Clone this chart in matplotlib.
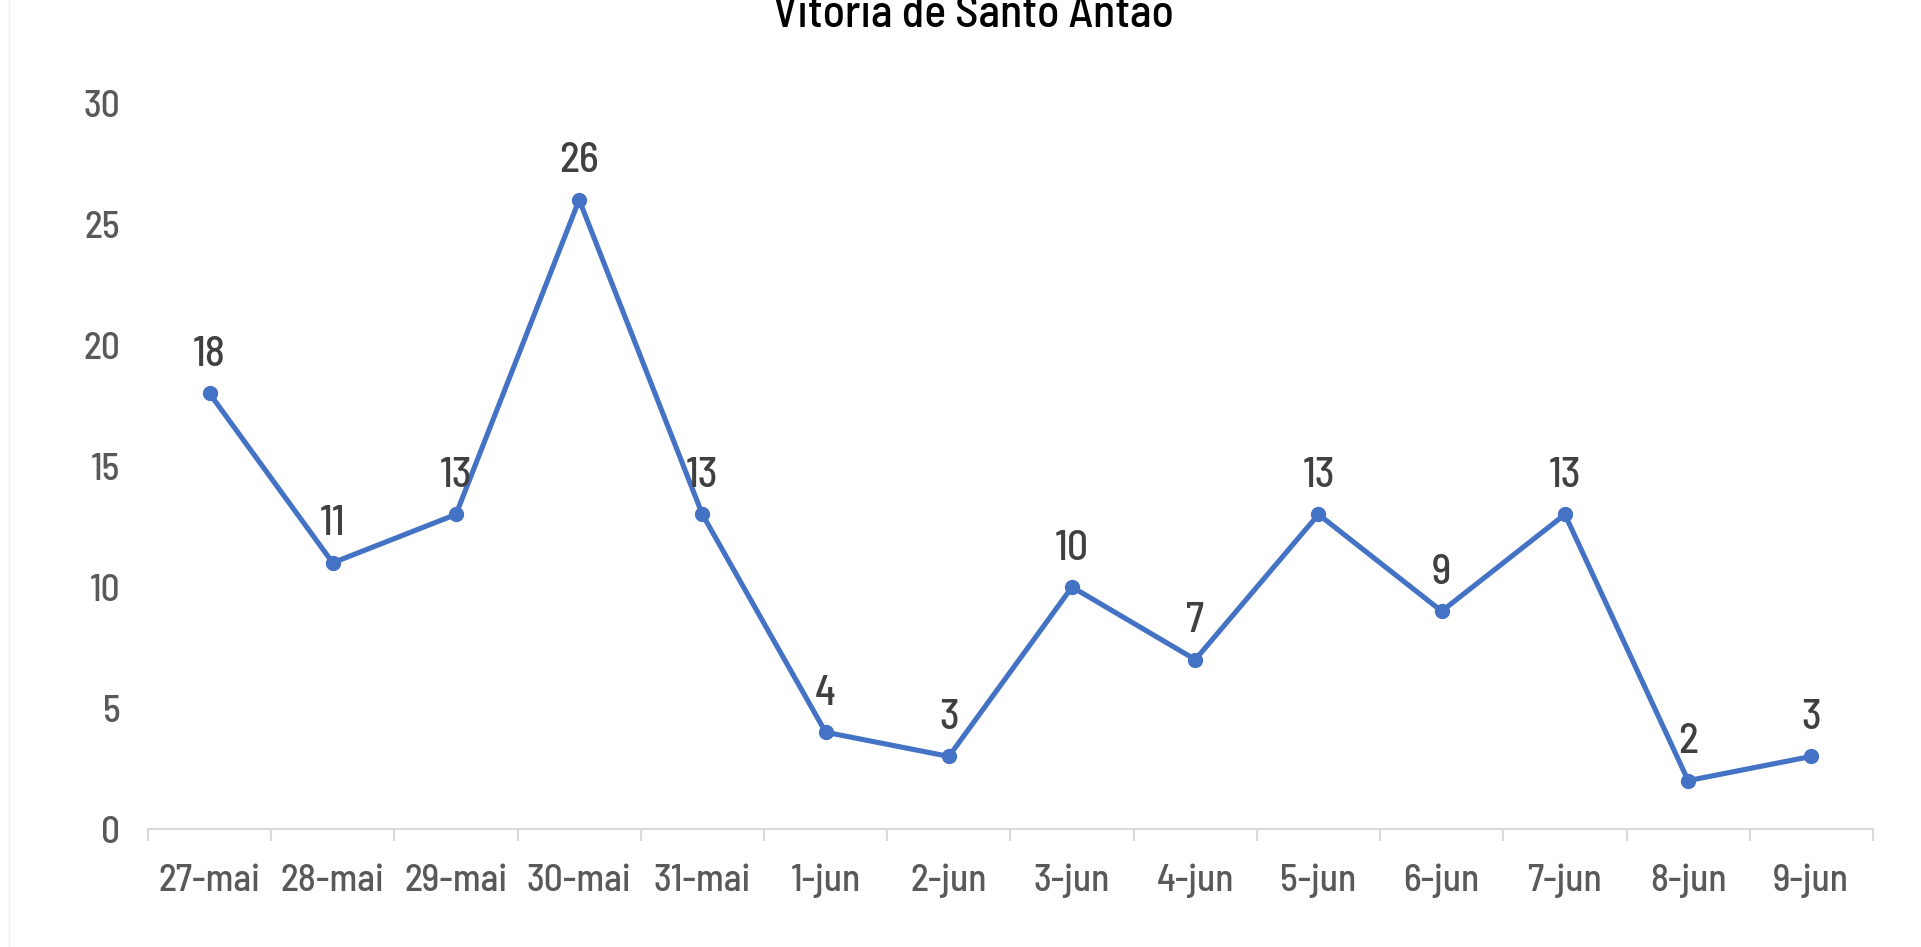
import matplotlib.pyplot as plt
import numpy as np

# dados
datas = ["27-mai", "28-mai", "29-mai", "30-mai", "31-mai", "1-jun", "2-jun",
         "3-jun", "4-jun", "5-jun", "6-jun", "7-jun", "8-jun", "9-jun"]
casos = [18, 11, 13, 26, 13, 4, 3, 10, 7, 13, 9, 13, 2, 3]
titulo = "Vitória de Santo Antão"

plt.rcParams['font.family'] = ['Barlow Semi Condensed', 'DejaVu Sans']

cor_linha = '#4472C4'
cor_eixo = '#D9D9D9'

fig = plt.figure(figsize=(19.21, 9.47), dpi=100)
ax = fig.add_axes([0.0770, 0.1246, 0.8980, 0.7666])

x = np.arange(len(datas))
ax.plot(x, casos, color=cor_linha, linewidth=3.7, marker='o', markersize=10)

for xi, v in zip(x, casos):
    ax.annotate(str(v), (xi, v), xytext=(0, 14), textcoords='offset points',
                ha='center', va='bottom', fontsize=30, color='#404040',
                fontweight='medium')

ax.set_xlim(-0.5, len(datas) - 0.5)
ax.set_ylim(0, 30)
ax.set_yticks(range(0, 31, 5))
ax.set_xticks(x)
ax.set_xticklabels(datas)
ax.set_xticks(np.arange(-0.5, len(datas), 1), minor=True)

ax.tick_params(axis='x', which='major', length=0, pad=25, labelsize=27, labelcolor='#595959')
ax.tick_params(axis='x', which='minor', length=8.6, width=1.5, color=cor_eixo)
ax.tick_params(axis='y', length=0, pad=20, labelsize=27, labelcolor='#595959')
for lbl in ax.get_xticklabels() + ax.get_yticklabels():
    lbl.set_fontweight('medium')

for s in ['top', 'right', 'left']:
    ax.spines[s].set_visible(False)
ax.spines['bottom'].set_color(cor_eixo)
ax.spines['bottom'].set_linewidth(1.5)

# borda esquerda da área do gráfico
fig.add_artist(plt.Line2D([9 / 1921, 9 / 1921], [0, 1], color='#EDEDED', linewidth=1))

fig.text(0.507, 0.9715, titulo, ha='center', va='baseline', fontsize=33,
         color='black', fontweight='medium')

fig.savefig("out.png", dpi=100)
